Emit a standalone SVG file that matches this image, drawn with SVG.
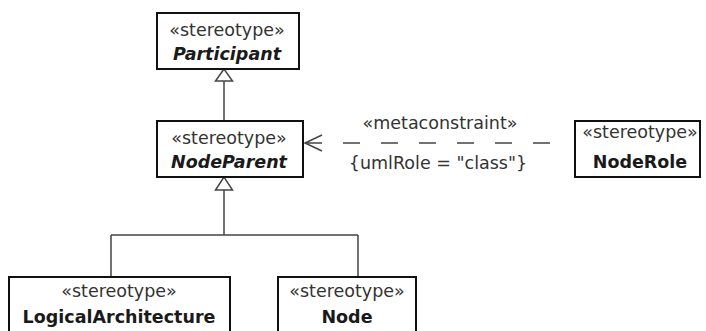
<svg xmlns="http://www.w3.org/2000/svg" width="706" height="331" viewBox="0 0 706 331">
<style>
.box{fill:#fff;stroke:#111;stroke-width:2}
.st{font-family:"DejaVu Sans",Verdana,sans-serif;font-size:17.5px;fill:#333;text-anchor:middle}
.nm{font-family:"DejaVu Sans",Verdana,sans-serif;font-size:17.5px;font-weight:bold;fill:#1a1a1a;text-anchor:middle}
.it{font-style:italic}
.ln{fill:none;stroke:#444;stroke-width:1.5}
.tri{fill:#fff;stroke:#444;stroke-width:1.5}
.lbl{font-family:"DejaVu Sans",Verdana,sans-serif;font-size:17.5px;fill:#333;text-anchor:middle}
</style>
<rect width="706" height="331" fill="#fff"/>
<g id="connectors">
<path class="ln" d="M224 81 V121"/>
<polygon class="tri" points="224,69 215.5,81 232.5,81"/>
<path class="ln" d="M224 190 V235 M111 235 H358 M111 235 V277 M358 235 V277"/>
<polygon class="tri" points="224,177 215.5,190 232.5,190"/>
<line class="ln" x1="305" y1="143" x2="555" y2="143" stroke-dasharray="17 21"/>
<path class="ln" d="M322 135 L305 143 L322 151"/>
<text class="lbl" x="440" y="129">«metaconstraint»</text>
<text class="lbl" x="438" y="169">{umlRole = "class"}</text>
</g>
<g id="participant">
<rect class="box" x="157" y="13" width="142" height="56"/>
<text class="st" x="227" y="36">«stereotype»</text>
<text class="nm it" x="227" y="60">Participant</text>
</g>
<g id="nodeparent">
<rect class="box" x="157" y="121" width="146" height="56"/>
<text class="st" x="229" y="144">«stereotype»</text>
<text class="nm it" x="229" y="168">NodeParent</text>
</g>
<g id="noderole">
<rect class="box" x="575" y="121" width="125" height="56"/>
<text class="st" x="640" y="138">«stereotype»</text>
<text class="nm" x="640" y="168">NodeRole</text>
</g>
<g id="logicalarchitecture">
<rect class="box" x="9" y="277" width="221" height="70"/>
<text class="st" x="119" y="297">«stereotype»</text>
<text class="nm" x="119" y="323">LogicalArchitecture</text>
</g>
<g id="node">
<rect class="box" x="278" y="277" width="138" height="70"/>
<text class="st" x="347" y="297">«stereotype»</text>
<text class="nm" x="347" y="323">Node</text>
</g>
</svg>
